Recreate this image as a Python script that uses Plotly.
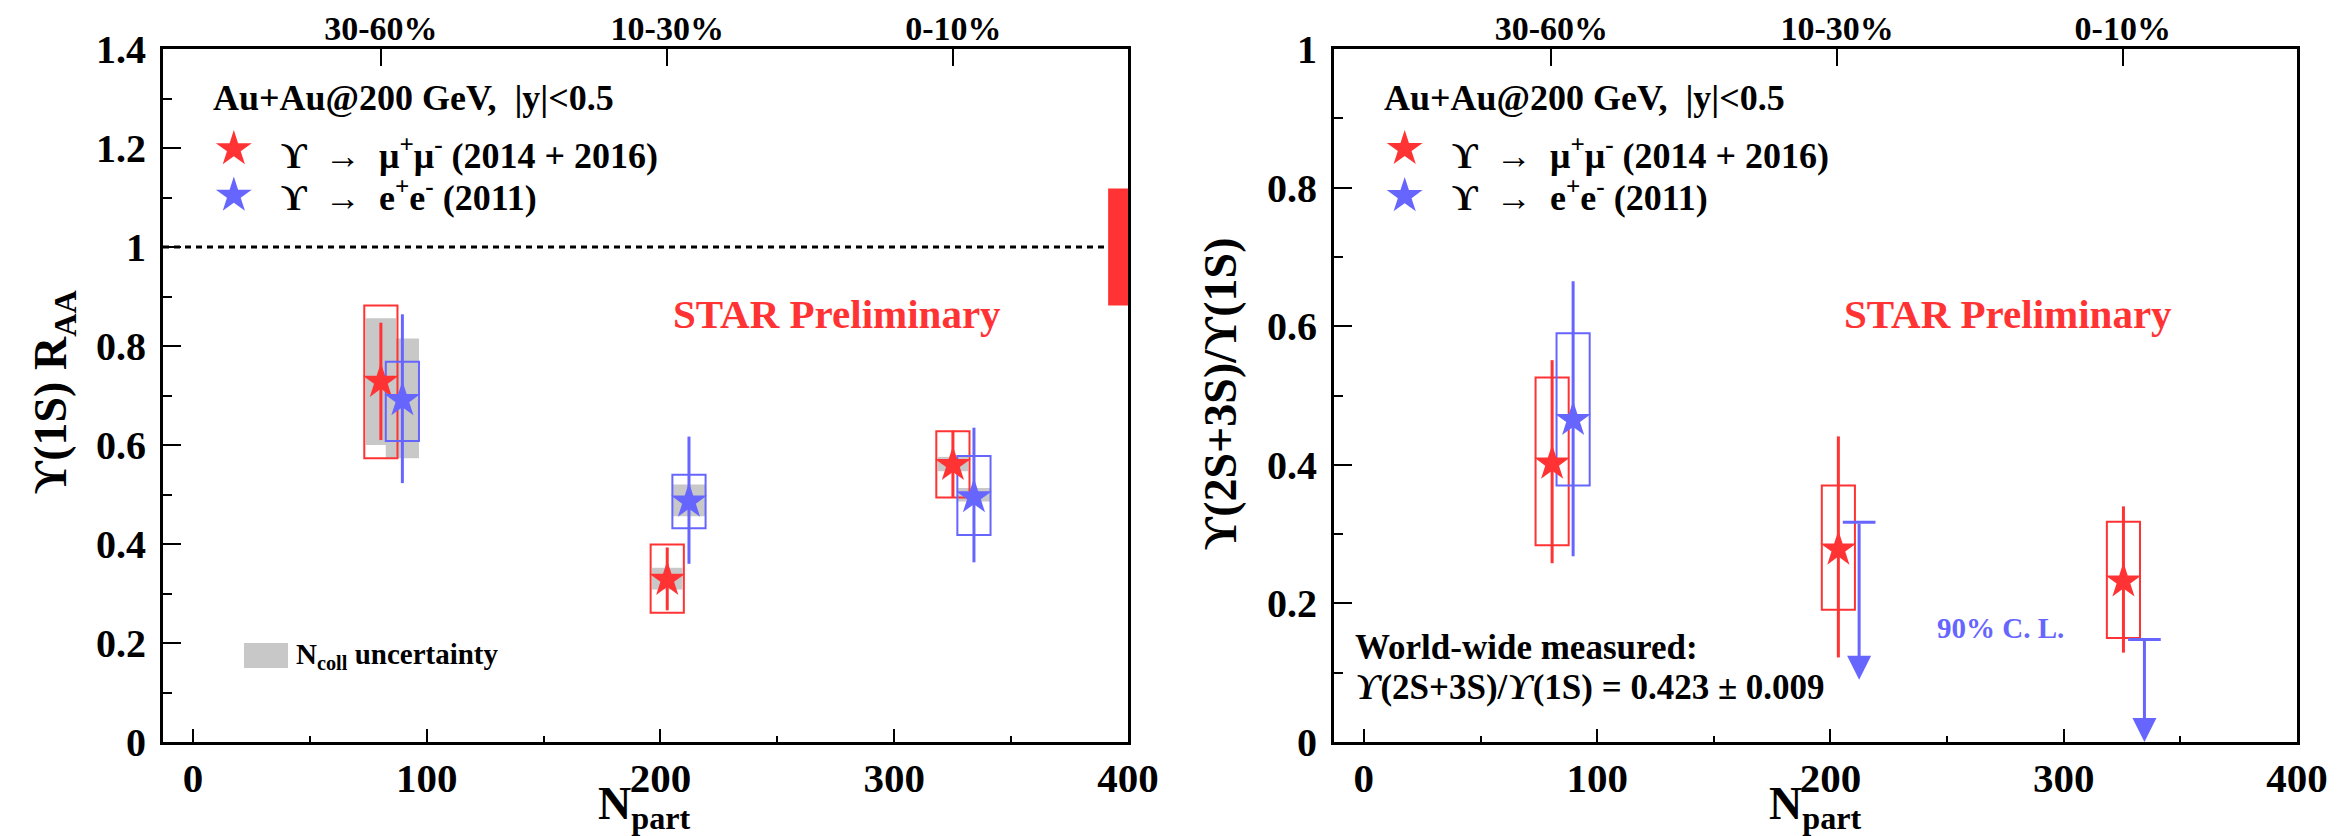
import plotly.graph_objects as go

W, H = 2338, 836
FONT = "Liberation Serif, Times New Roman, Times, serif"
RED = "#ff3333"
BLUE = "#6666ff"
GRAY = "#c8c8c8"

# ---------------- data ----------------
cent_labels = ["30-60%", "10-30%", "0-10%"]
cent_npart = [80.4, 202.9, 325.3]

# Left panel: Upsilon(1S) R_AA
raa_mm_npart = [80.4, 202.9, 325.1]
raa_mm = [0.728, 0.328, 0.560]
raa_mm_stat_up = [0.119, 0.065, 0.069]
raa_mm_stat_dn = [0.118, 0.062, 0.067]
raa_mm_sys_lo = [0.573, 0.261, 0.494]
raa_mm_sys_hi = [0.882, 0.399, 0.628]
raa_mm_ncoll_lo = [0.600, 0.308, 0.547]
raa_mm_ncoll_hi = [0.856, 0.352, 0.576]

raa_ee_npart = [89.6, 212.2, 334.1]
raa_ee = [0.691, 0.486, 0.495]
raa_ee_stat_up = [0.173, 0.131, 0.140]
raa_ee_stat_dn = [0.168, 0.126, 0.132]
raa_ee_sys_lo = [0.608, 0.432, 0.418]
raa_ee_sys_hi = [0.768, 0.540, 0.578]
raa_ee_ncoll_lo = [0.573, 0.456, 0.486]
raa_ee_ncoll_hi = [0.815, 0.520, 0.513]

raa_global_unc = 0.118

# Right panel: Upsilon(2S+3S)/Upsilon(1S)
ratio_mm_npart = [80.7, 203.4, 325.6]
ratio_mm = [0.402, 0.278, 0.232]
ratio_mm_stat_up = [0.149, 0.163, 0.108]
ratio_mm_stat_dn = [0.144, 0.156, 0.103]
ratio_mm_sys_lo = [0.284, 0.191, 0.150]
ratio_mm_sys_hi = [0.526, 0.370, 0.318]

ratio_ee_npart = [89.7]
ratio_ee = [0.465]
ratio_ee_stat_up = [0.200]
ratio_ee_stat_dn = [0.197]
ratio_ee_sys_lo = [0.370]
ratio_ee_sys_hi = [0.590]

ratio_ee_ul_npart = [212.3, 334.6]
ratio_ee_ul = [0.317, 0.148]
ratio_ee_ul_end = [0.090, 0.0]

world_avg_text = "0.423 ± 0.009"

X_RANGE = [-12.8, 400]
BOX_HW = 7.1
NCOLL_HW = 6.5
CAP_HW = 7.0

# ---------------- layout geometry (pixels) ----------------
L1, R1 = 155, 1120
L2, R2 = 1326, 2289
TOP, BOT = 41, 734


def px(x):
    return x / W


def py(y):
    return 1 - y / H


def fnt(size, color="black", bold=True):
    return dict(family=FONT, size=size, color=color, weight=700 if bold else 400)


fig = go.Figure()
shapes = []
annotations = []

# --- left panel shapes ---
for xc, lo, hi in zip(raa_mm_npart, raa_mm_ncoll_lo, raa_mm_ncoll_hi):
    shapes.append(dict(type="rect", xref="x", yref="y", x0=xc - NCOLL_HW, x1=xc + NCOLL_HW,
                       y0=lo, y1=hi, fillcolor=GRAY, line=dict(width=0), layer="below"))
for xc, lo, hi in zip(raa_ee_npart, raa_ee_ncoll_lo, raa_ee_ncoll_hi):
    shapes.append(dict(type="rect", xref="x", yref="y", x0=xc - BOX_HW, x1=xc + BOX_HW,
                       y0=lo, y1=hi, fillcolor=GRAY, line=dict(width=0), layer="below"))
for xc, lo, hi in zip(raa_mm_npart, raa_mm_sys_lo, raa_mm_sys_hi):
    shapes.append(dict(type="rect", xref="x", yref="y", x0=xc - BOX_HW, x1=xc + BOX_HW,
                       y0=lo, y1=hi, line=dict(color=RED, width=2), layer="below"))
for xc, lo, hi in zip(raa_ee_npart, raa_ee_sys_lo, raa_ee_sys_hi):
    shapes.append(dict(type="rect", xref="x", yref="y", x0=xc - BOX_HW, x1=xc + BOX_HW,
                       y0=lo, y1=hi, line=dict(color=BLUE, width=2), layer="below"))
# unity line and global uncertainty band
shapes.append(dict(type="line", xref="x", yref="y", x0=X_RANGE[0], x1=391.5, y0=1, y1=1,
                   line=dict(color="black", width=3, dash="6px,5px")))
shapes.append(dict(type="rect", xref="x", yref="y", x0=391.5, x1=X_RANGE[1],
                   y0=1 - raa_global_unc, y1=1 + raa_global_unc, fillcolor=RED,
                   line=dict(width=0)))
# Ncoll legend box
shapes.append(dict(type="rect", xref="paper", yref="paper", x0=px(236), x1=px(280),
                   y0=py(660), y1=py(635), fillcolor=GRAY, line=dict(width=0)))

# --- right panel shapes ---
for xc, lo, hi in zip(ratio_mm_npart, ratio_mm_sys_lo, ratio_mm_sys_hi):
    shapes.append(dict(type="rect", xref="x2", yref="y2", x0=xc - BOX_HW, x1=xc + BOX_HW,
                       y0=lo, y1=hi, line=dict(color=RED, width=2), layer="below"))
for xc, lo, hi in zip(ratio_ee_npart, ratio_ee_sys_lo, ratio_ee_sys_hi):
    shapes.append(dict(type="rect", xref="x2", yref="y2", x0=xc - BOX_HW, x1=xc + BOX_HW,
                       y0=lo, y1=hi, line=dict(color=BLUE, width=2), layer="below"))


def points(xs, ys, up, dn, color, xa, ya):
    return go.Scatter(
        x=xs, y=ys, xaxis=xa, yaxis=ya, mode="markers",
        marker=dict(symbol="star", size=27, color=color, line=dict(width=0)),
        error_y=dict(type="data", symmetric=False, array=up, arrayminus=dn,
                     thickness=3, width=0, color=color),
        showlegend=False, hoverinfo="skip")


fig.add_trace(points(raa_mm_npart, raa_mm, raa_mm_stat_up, raa_mm_stat_dn, RED, "x", "y"))
fig.add_trace(points(raa_ee_npart, raa_ee, raa_ee_stat_up, raa_ee_stat_dn, BLUE, "x", "y"))
fig.add_trace(points(ratio_mm_npart, ratio_mm, ratio_mm_stat_up, ratio_mm_stat_dn, RED, "x2", "y2"))
fig.add_trace(points(ratio_ee_npart, ratio_ee, ratio_ee_stat_up, ratio_ee_stat_dn, BLUE, "x2", "y2"))

# upper-limit caps
cap_x, cap_y = [], []
for xc, ul in zip(ratio_ee_ul_npart, ratio_ee_ul):
    cap_x += [xc - CAP_HW, xc + CAP_HW, None]
    cap_y += [ul, ul, None]
fig.add_trace(go.Scatter(x=cap_x, y=cap_y, xaxis="x2", yaxis="y2", mode="lines",
                         line=dict(color=BLUE, width=3), showlegend=False, hoverinfo="skip"))
for xc, ul, end in zip(ratio_ee_ul_npart, ratio_ee_ul, ratio_ee_ul_end):
    annotations.append(dict(x=xc, y=end, ax=xc, ay=ul, xref="x2", yref="y2", axref="x2", ayref="y2",
                            text="", showarrow=True, arrowhead=2, arrowsize=1.6, arrowwidth=3,
                            arrowcolor=BLUE, standoff=0, startstandoff=0))

# legend star markers
fig.add_trace(go.Scatter(x=[17.5, 17.5], y=[1.198, 1.104], xaxis="x", yaxis="y", mode="markers",
                         marker=dict(symbol="star", size=27, color=[RED, BLUE], line=dict(width=0)),
                         showlegend=False, hoverinfo="skip", cliponaxis=False))
fig.add_trace(go.Scatter(x=[17.5, 17.5], y=[0.856, 0.788], xaxis="x2", yaxis="y2", mode="markers",
                         marker=dict(symbol="star", size=27, color=[RED, BLUE], line=dict(width=0)),
                         showlegend=False, hoverinfo="skip", cliponaxis=False))


def txt(s, x, y, size, color="black", xanchor="left", yanchor="middle", angle=0, bold=True):
    return dict(text=s, x=px(x), y=py(y), xref="paper", yref="paper", showarrow=False,
                xanchor=xanchor, yanchor=yanchor, textangle=angle, font=fnt(size, color, bold))


NB = "\u00a0"
leg_mm = f"ϒ{NB}{NB}→{NB}{NB}μ<sup>+</sup>μ<sup>-</sup> (2014 + 2016)"
leg_ee = f"ϒ{NB}{NB}→{NB}{NB}e<sup>+</sup>e<sup>-</sup> (2011)"
header = f"Au+Au@200 GeV,{NB}{NB}|y|<0.5"

for off in (0, 1171):
    annotations.append(txt(header, 203 + off, 90, 36))
    annotations.append(txt(leg_mm, 271 + off, 145, 36))
    annotations.append(txt(leg_ee, 271 + off, 188, 36))
    annotations.append(txt("STAR Preliminary", 829 + off, 306, 41, RED, xanchor="center"))

annotations.append(txt("N<sub>coll</sub> uncertainty", 286, 648, 29))
annotations.append(txt("World-wide measured:", 1345, 639, 35))
annotations.append(txt("<i>ϒ</i>(2S+3S)/<i>ϒ</i>(1S) = " + world_avg_text, 1345, 679, 35))
annotations.append(txt("90%" + NB + "C." + NB + "L.", 1927, 620, 29, BLUE))

# axis titles
annotations.append(txt("ϒ(1S) R<sub>AA</sub>", 46, 384, 46, xanchor="center", angle=-90))
annotations.append(txt("ϒ(2S+3S)/ϒ(1S)", 1212, 386, 46, xanchor="center", angle=-90))
annotations.append(txt("N<sub>part</sub>", 636, 830, 46, xanchor="center", yanchor="bottom"))
annotations.append(txt("N<sub>part</sub>", 1807, 830, 46, xanchor="center", yanchor="bottom"))

xdom1 = [px(L1), px(R1)]
xdom2 = [px(L2), px(R2)]
ydom = [py(BOT), py(TOP)]


def xaxis(dom, anchor):
    return dict(domain=dom, anchor=anchor, range=X_RANGE, tick0=0, dtick=100,
                ticks="inside", ticklen=13, tickwidth=2, tickcolor="black",
                minor=dict(dtick=50, tick0=0, ticks="inside", ticklen=6, tickwidth=2, tickcolor="black"),
                showline=True, linewidth=3, linecolor="black", mirror=True,
                showgrid=False, zeroline=False, tickfont=fnt(41), ticklabelstandoff=-2,
                automargin=False, fixedrange=True)


def yaxis(dom, anchor, rng):
    return dict(domain=dom, anchor=anchor, range=rng, tick0=0, dtick=0.2,
                ticks="inside", ticklen=18, tickwidth=2, tickcolor="black",
                minor=dict(dtick=0.1, tick0=0, ticks="inside", ticklen=9, tickwidth=2, tickcolor="black"),
                showline=True, linewidth=3, linecolor="black", mirror=True,
                showgrid=False, zeroline=False, tickfont=fnt(40), ticklabelstandoff=6,
                automargin=False, fixedrange=True)


def topaxis(over, anchor):
    return dict(overlaying=over, anchor=anchor, side="top", range=X_RANGE,
                tickmode="array", tickvals=cent_npart, ticktext=cent_labels,
                ticks="inside", ticklen=17, tickwidth=2, tickcolor="black",
                showline=False, showgrid=False, zeroline=False, tickfont=fnt(34),
                ticklabelstandoff=1, automargin=False, fixedrange=True)


fig.update_layout(
    width=W, height=H,
    margin=dict(l=0, r=0, t=0, b=0),
    paper_bgcolor="white", plot_bgcolor="white",
    showlegend=False,
    font=dict(family=FONT),
    xaxis=xaxis(xdom1, "y"),
    yaxis=yaxis(ydom, "x", [0, 1.4]),
    xaxis2=xaxis(xdom2, "y2"),
    yaxis2=yaxis(ydom, "x2", [0, 1.0]),
    xaxis3=topaxis("x", "y"),
    xaxis4=topaxis("x2", "y2"),
    shapes=shapes,
    annotations=annotations,
)

# dummy traces so the top axes are rendered
fig.add_trace(go.Scatter(x=[None], y=[None], xaxis="x3", yaxis="y", showlegend=False, hoverinfo="skip"))
fig.add_trace(go.Scatter(x=[None], y=[None], xaxis="x4", yaxis="y2", showlegend=False, hoverinfo="skip"))

fig.write_html("out.html")
